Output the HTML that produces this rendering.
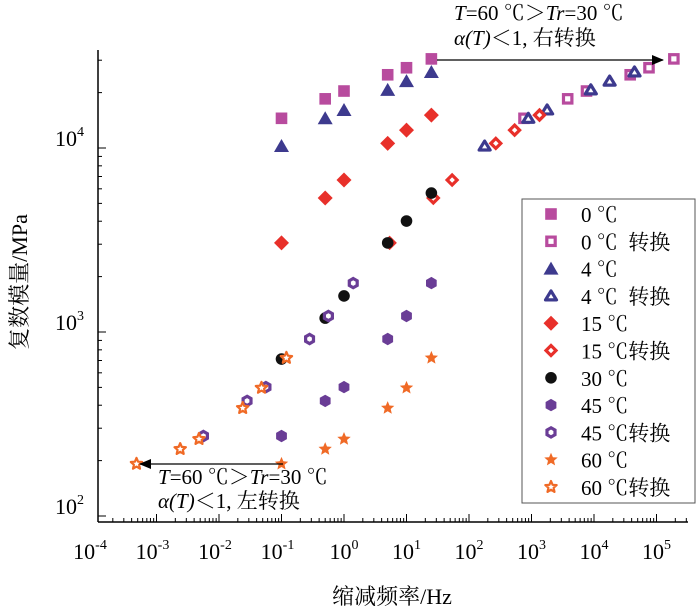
<!DOCTYPE html>
<html><head><meta charset="utf-8"><style>
body{margin:0;background:#fff}
svg{display:block;font-family:"Liberation Serif","Noto Serif CJK SC",serif}
</style></head><body>
<svg id="chart" width="700" height="610" viewBox="0 0 700 610" xmlns="http://www.w3.org/2000/svg">
<defs>
<marker id="arrR" markerWidth="12" markerHeight="10" refX="11" refY="5" orient="auto" markerUnits="userSpaceOnUse"><path d="M0,0 L12,5 L0,10 Z" fill="#000"/></marker>
</defs>
<g id="axes"></g>
<g id="marks"></g>
<text transform="translate(27,282) rotate(-90)" text-anchor="middle" font-size="22">复数模量/MPa</text>
<text x="392" y="604" text-anchor="middle" font-size="22">缩减频率/Hz</text>
<g font-size="21">
<text x="454" y="20"><tspan font-style="italic">T</tspan>=60 ℃＞<tspan font-style="italic">Tr</tspan>=30 ℃</text>
<text x="454" y="45"><tspan font-style="italic">α(T)</tspan>＜1, 右转换</text>
<line x1="437" y1="60" x2="663" y2="60" stroke="#000" stroke-width="1.3" marker-end="url(#arrR)"/>
</g>
<g font-size="21">
<text x="158" y="484"><tspan font-style="italic">T</tspan>=60 ℃＞<tspan font-style="italic">Tr</tspan>=30 ℃</text>
<text x="158" y="508"><tspan font-style="italic">α(T)</tspan>＜1, 左转换</text>
<line x1="283" y1="464" x2="140" y2="464" stroke="#000" stroke-width="1.3" marker-end="url(#arrR)"/>
</g>
<g id="legend"></g>
</svg>
<script>
const freqs = [0.1, 0.5, 1, 5, 10, 25];
const seriesNames = ["0 ℃","0 ℃  转换","4 ℃","4 ℃  转换","15 ℃","15 ℃转换","30 ℃","45 ℃","45 ℃转换","60 ℃","60 ℃转换"];
const mod0 = [14500, 18500, 20400, 25000, 27300, 30500];
const mod4 = [10250, 14500, 16100, 20700, 23100, 25900];
const mod15 = [3050, 5350, 6700, 10600, 12500, 15100];
const mod30 = [713, 1190, 1570, 3050, 4010, 5690];
const mod45 = [272, 422, 502, 916, 1222, 1845];
const mod60 = [192, 231, 262, 386, 497, 723];
const shift0 = 3.88;   // log10 shift factor (decades)
const shift4 = 3.25;
const shift15 = 1.73;
const shift45 = -1.25;
const shift60 = -2.32;
const xTicks = [-4,-3,-2,-1,0,1,2,3,4,5];
const yTicks = [2,3,4];

const NS="http://www.w3.org/2000/svg";
const X0=344, XD=62.5, Y4=148, YD=184;
const xs = v => X0 + XD*Math.log10(v);
const ys = v => Y4 - YD*(Math.log10(v)-4);
const L=98, R=688, T=50, B=522;
function el(tag, attrs, parent){const e=document.createElementNS(NS,tag);for(const k in attrs)e.setAttribute(k,attrs[k]);parent.appendChild(e);return e;}
const axes=document.getElementById('axes');
el('line',{x1:L,y1:T,x2:L,y2:B,stroke:'#000','stroke-width':1.5},axes);
el('line',{x1:L,y1:B,x2:R,y2:B,stroke:'#000','stroke-width':1.5},axes);
for(let d=-4; d<=5; d++){
  for(let m=1;m<10;m++){
    const px=X0+XD*(d+Math.log10(m));
    if(px<L||px>R) continue;
    const t=el('line',{x1:px,y1:B,x2:px,y2:B-(m===1?8:4),stroke:'#000','stroke-width':1},axes);
    
    
  }
}
for(let d=2; d<=4; d++){
  for(let m=1;m<10;m++){
    const py=Y4-YD*(d-4+Math.log10(m));
    if(py<T||py>B) continue;
    const t=el('line',{x1:L,y1:py,x2:L+(m===1?8:4),y2:py,stroke:'#000','stroke-width':1},axes);
    
    
  }
}
xTicks.forEach(d=>{
  const t=el('text',{x:X0+XD*d+(d<0?-4:0),y:559,'text-anchor':'middle','font-size':22},axes);
  
  
  t.textContent='10';
  const s=el('tspan',{dy:-10,'font-size':14},t); s.textContent=String(d);
});
yTicks.forEach(d=>{
  const py=Y4-YD*(d-4);
  const t=el('text',{x:55,y:py-2,'font-size':22},axes);
  
  
  t.textContent='10';
  const s=el('tspan',{dy:-10,'font-size':14},t); s.textContent=String(d);
});

function starPts(cx,cy,r){let p=[];for(let i=0;i<10;i++){const a=-Math.PI/2+i*Math.PI/5;const rr=i%2?r*0.45:r;p.push((cx+rr*Math.cos(a)).toFixed(1)+','+(cy+rr*Math.sin(a)).toFixed(1));}return p.join(' ');}
function hexPts(cx,cy,r){let p=[];for(let i=0;i<6;i++){const a=-Math.PI/2+i*Math.PI/3;p.push((cx+r*Math.cos(a)).toFixed(1)+','+(cy+r*Math.sin(a)).toFixed(1));}return p.join(' ');}
function marker(shape,color,open,cx,cy,parent){
  const fill=open?'#fff':color, sw=open?3.2:0;
  let e;
  if(shape==='square') e=el('rect',{x:cx-(open?4.2:5.8),y:cy-(open?4.2:5.8),width:open?8.4:11.6,height:open?8.4:11.6,fill:fill,stroke:color,'stroke-width':sw},parent);
  else if(shape==='tri') e=open?el('polygon',{points:`${cx},${cy-5} ${cx+5.5},${cy+4} ${cx-5.5},${cy+4}`,fill:fill,stroke:color,'stroke-width':sw,'stroke-linejoin':'round'},parent)
                             :el('polygon',{points:`${cx},${cy-7} ${cx+7.5},${cy+6} ${cx-7.5},${cy+6}`,fill:fill},parent);
  else if(shape==='diamond') e=open?el('polygon',{points:`${cx},${cy-5} ${cx+5},${cy} ${cx},${cy+5} ${cx-5},${cy}`,fill:fill,stroke:color,'stroke-width':sw},parent)
                                 :el('polygon',{points:`${cx},${cy-7.5} ${cx+7.5},${cy} ${cx},${cy+7.5} ${cx-7.5},${cy}`,fill:fill},parent);
  else if(shape==='circle') e=el('circle',{cx:cx,cy:cy,r:5.8,fill:fill},parent);
  else if(shape==='hex') e=el('polygon',{points:hexPts(cx,cy,open?4.6:6.2),fill:fill,stroke:color,'stroke-width':sw},parent);
  else e=el('polygon',{points:starPts(cx,cy,open?6:7),fill:fill,stroke:color,'stroke-width':open?2.2:0,'stroke-linejoin':'round'},parent);
  return e;
}
const defs=[
 {vals:mod0,shift:0,shape:'square',color:'#b84b9e',open:false},
 {vals:mod0,shift:shift0,shape:'square',color:'#b84b9e',open:true},
 {vals:mod4,shift:0,shape:'tri',color:'#3d3a8e',open:false},
 {vals:mod4,shift:shift4,shape:'tri',color:'#3d3a8e',open:true},
 {vals:mod15,shift:0,shape:'diamond',color:'#e8302a',open:false},
 {vals:mod15,shift:shift15,shape:'diamond',color:'#e8302a',open:true},
 {vals:mod30,shift:0,shape:'circle',color:'#111',open:false},
 {vals:mod45,shift:0,shape:'hex',color:'#6a3d96',open:false},
 {vals:mod45,shift:shift45,shape:'hex',color:'#6a3d96',open:true},
 {vals:mod60,shift:0,shape:'star',color:'#f06a26',open:false},
 {vals:mod60,shift:shift60,shape:'star',color:'#f06a26',open:true},
];
const marks=document.getElementById('marks');
defs.forEach((s,i)=>{
  const g=el('g',{},marks);
  
  
  freqs.forEach((f,j)=>{
    const m=marker(s.shape,s.color,s.open,xs(f*Math.pow(10,s.shift)),ys(s.vals[j]),g);
    
    
  });
});
const lg=document.getElementById('legend');
el('rect',{x:522,y:199,width:173,height:304,fill:'#fff',stroke:'#555','stroke-width':1},lg);
defs.forEach((s,i)=>{
  const y=214+i*27.3;
  const g=el('g',{},lg);
  
  
  marker(s.shape,s.color,s.open,551,y,g);
  const t=el('text',{x:581,y:y+8,'font-size':21},g);
  t.textContent=seriesNames[i];
  t.style.whiteSpace='pre';
});
</script>
</body></html>
